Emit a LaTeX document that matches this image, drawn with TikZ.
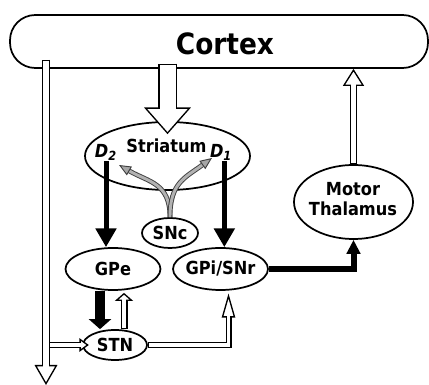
\documentclass[tikz,border=0pt]{standalone}
\usepackage{fontspec}
\setmainfont{DejaVuSansCondensed}[Extension=.ttf, BoldFont=DejaVuSansCondensed-Bold, ItalicFont=DejaVuSansCondensed-Oblique, BoldItalicFont=DejaVuSansCondensed-BoldOblique]
\usetikzlibrary{arrows.meta, shapes.geometric}

\begin{document}
\begin{tikzpicture}[x=7.5pt, y=7.5pt, line join=miter,
  area/.style={draw, ellipse, line width=1.3pt, inner sep=0pt},
  lbl/.style={font=\fontsize{13.5}{15}\selectfont\bfseries, inner sep=0pt},
  inhib/.style={line width=3.75pt, -{Triangle[length=14pt, width=15pt]}},
  excit/.style n args={4}{line width=#1, -{Triangle[fill=white, line width=1pt, length=#3, width=#4]},
    postaction={draw=white, arrows=-, line width=#2, shorten <=1.1pt, shorten >=#3-1.5pt}},
  dopa/.style={double=black!30, draw=black!75, line width=0.7pt, double distance=2.2pt,
    -{Triangle[color=black!75, fill=black!35, line width=0.7pt, length=9pt, width=7.5pt]}}]
  \useasboundingbox (0,0) rectangle (42.9,38.5);
  % la corteza
  \node[draw, line width=1.3pt, rounded corners=19pt, minimum width=313.5pt, minimum height=39.75pt] (cortex) at (21.9,34.35) {};
  \node[font=\fontsize{22}{24}\selectfont\bfseries, anchor=base, inner sep=0pt] (cortexlbl) at (22.5,33.0) {Cortex};
  % el estriado
  \node[area, minimum width=123.75pt, minimum height=51pt] (striatum) at (16.75,22.9) {};
  \node[lbl, anchor=base] (strlbl) at (16.65,23.2) {Striatum};
  \node[lbl, anchor=base] (d2) at (10.6,22.7) {\textit{D}\textsubscript{\textit{2}}};
  \node[lbl, anchor=base] (d1) at (22.1,22.7) {\textit{D}\textsubscript{\textit{1}}};
  \coordinate (d2tip) at (11.9,22.0);
  \coordinate (d1tip) at (21.2,22.7);
  % los ganglios
  \node[area, minimum width=42pt, minimum height=22.5pt, label={[lbl]center:SNc}] (snc) at (17.0,15.2) {};
  \node[area, minimum width=71.25pt, minimum height=31.5pt, label={[lbl]center:GPe}] (gpe) at (11.3,11.6) {};
  \node[area, minimum width=71.25pt, minimum height=31.5pt, label={[lbl]center:GPi/SNr}] (gpi) at (22.05,11.6) {};
  \node[area, minimum width=48pt, minimum height=22.5pt, label={[lbl]center:STN}] (stn) at (11.5,4.0) {};
  % el tálamo
  \node[area, minimum width=89.25pt, minimum height=55.5pt] (thalamus) at (35.35,18.3) {};
  \node[lbl, align=center] (thallbl) at (35.3,18.6) {Motor\\Thalamus};
  \coordinate (spine) at (4.6,0);
  % vías excitadoras
  \draw[excit={14.25pt}{12pt}{20pt}{35pt}] ([yshift=4pt]cortex.south -| striatum.north) -- ([yshift=-9.75pt]striatum.north);
  \draw[excit={4.5pt}{2.5pt}{7pt}{10pt}] (spine |- stn) -- ([xshift=5pt]stn.west);
  \draw[excit={6pt}{3.8pt}{15pt}{17pt}] ([yshift=6.75pt]spine |- cortex.south) -- (spine);
  \draw[excit={5.25pt}{3.2pt}{12.75pt}{15.75pt}] (thalamus.north) -- (thalamus.north |- cortex.south);
  \draw[excit={4.5pt}{2.5pt}{18pt}{10pt}] (stn.east) -| ([xshift=6pt, yshift=-2pt]gpi.south);
  \draw[excit={5.25pt}{3.2pt}{6pt}{13.5pt}] ([xshift=6.75pt]stn.north) -- ([xshift=6.75pt, yshift=-1.5pt]stn.north |- gpe.south);
  % vías inhibidoras
  \draw[inhib] (d2.south) -- (d2.south |- gpe.north);
  \draw[inhib] ([xshift=2.5pt]d1.south) -- ([xshift=2.5pt]d1.south |- gpi.north);
  \draw[inhib, line width=7pt, -{Triangle[length=7.5pt, width=16.5pt]}] ([xshift=-9.75pt]gpe.south) -- ([xshift=-9.75pt]gpe.south |- stn.north);
  \draw[inhib, line width=4.5pt, -{Triangle[length=10.5pt, width=10pt]}] (gpi.east) -| (thalamus.south);
  % la dopamina
  \draw[dopa] (snc.north) to[out=90, in=-30, looseness=1.2] (d2tip);
  \draw[dopa] (snc.north) to[out=90, in=216, looseness=1.2] (d1tip);
\end{tikzpicture}
\end{document}
